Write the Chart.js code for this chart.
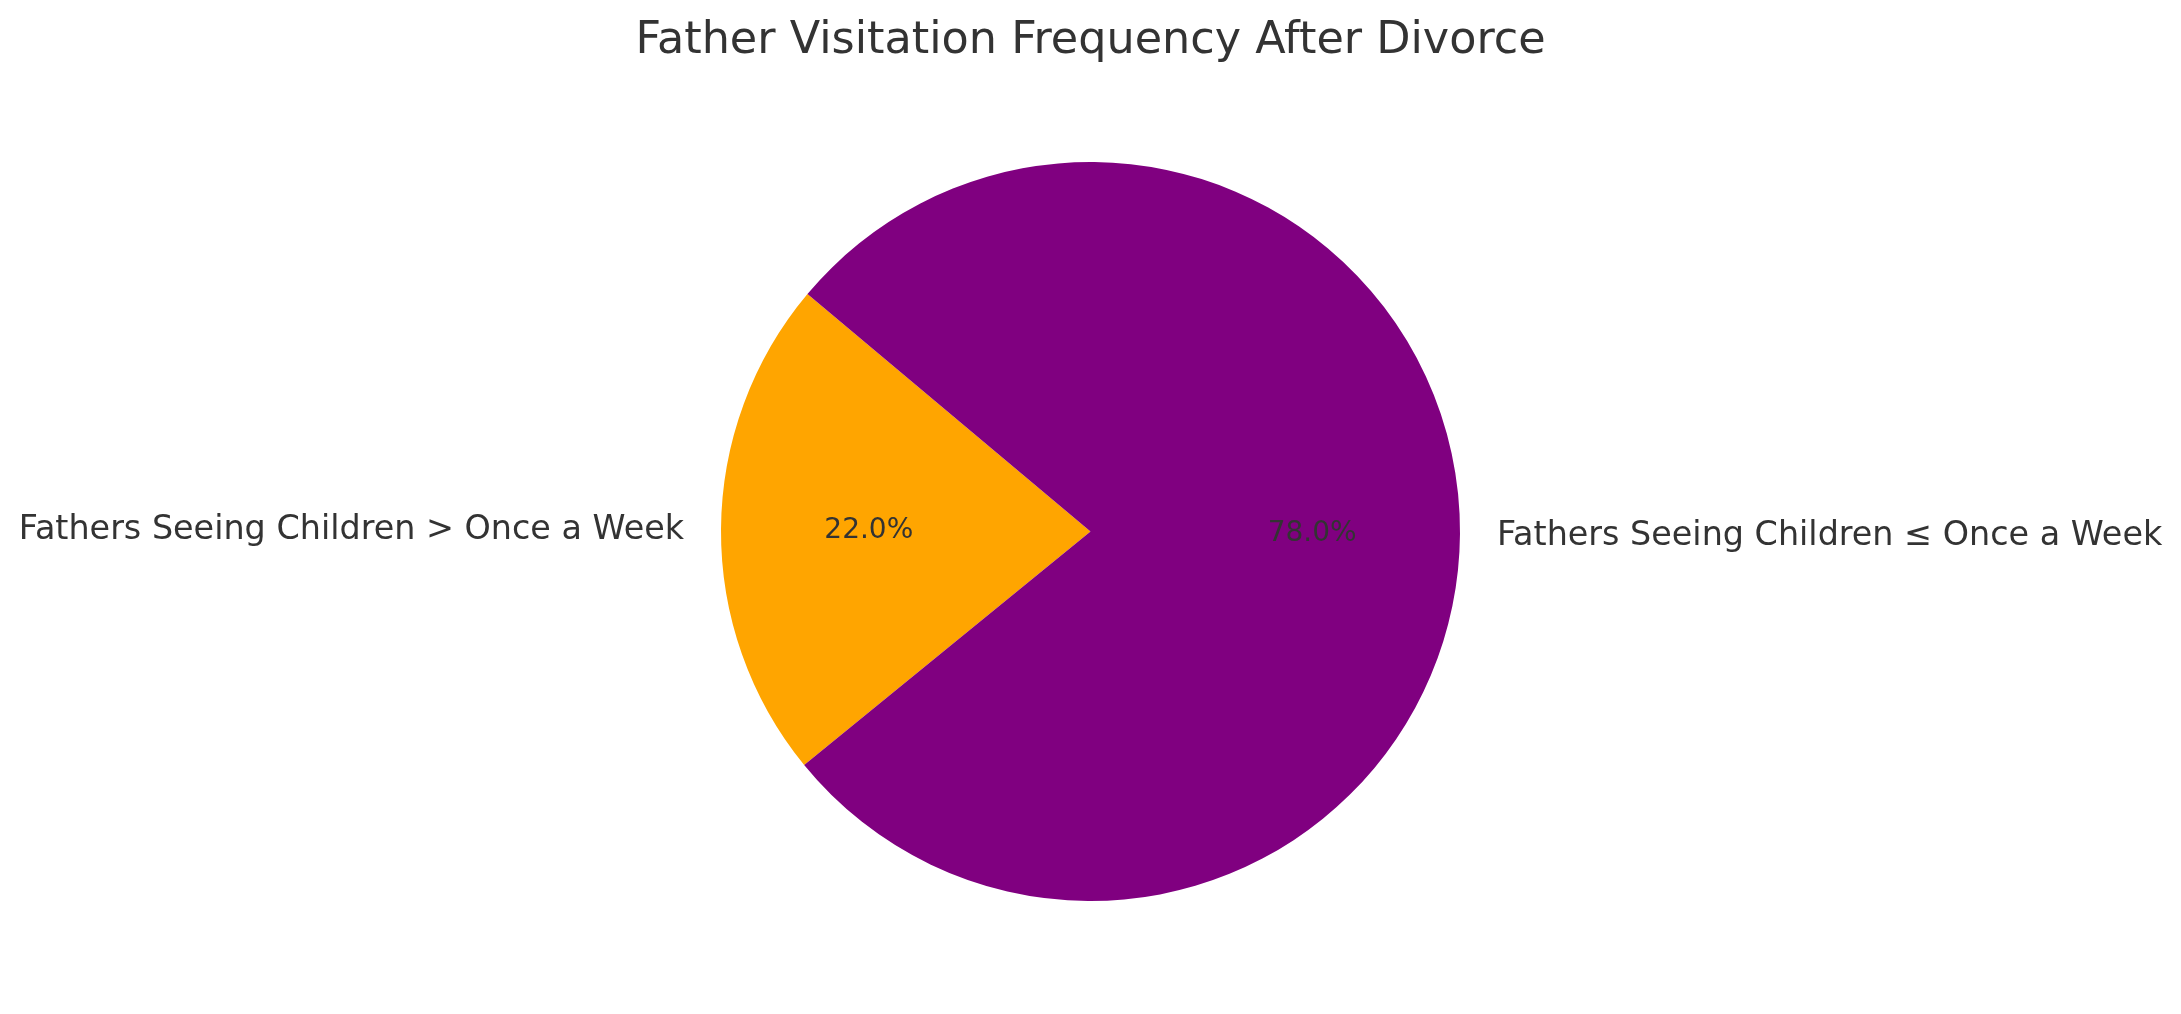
<!DOCTYPE html>
<html>
<head>
<meta charset="utf-8">
<script src="https://cdn.jsdelivr.net/npm/chart.js@4/dist/chart.umd.min.js"></script>
<style>
  html, body { margin: 0; padding: 0; background: #fff; }
  #wrap { width: 2181px; height: 1014px; }
</style>
</head>
<body>
<div id="wrap"><canvas id="myChart" width="2181" height="1014"></canvas></div>
<script>
const chartTitle = "Father Visitation Frequency After Divorce";
const labels = [
  "Fathers Seeing Children > Once a Week",
  "Fathers Seeing Children \u2264 Once a Week",
];
const values = [22, 78];
const colors = ["#FFA500", "#800080"];

const FONT = "'DejaVu Sans', sans-serif";
const TEXT = "#333333";

// labels outside at 1.1 r, percentages inside at 0.6 r (like matplotlib)
const pieText = {
  id: "pieText",
  afterDraw(chart) {
    const ctx = chart.ctx;
    const total = values.reduce((a, b) => a + b, 0);
    ctx.save();
    ctx.fillStyle = TEXT;
    ctx.font = "44.5px " + FONT;
    ctx.textAlign = "center";
    ctx.textBaseline = "middle";
    ctx.fillText(chartTitle, chart.width / 2, 41);

    chart.getDatasetMeta(0).data.forEach((arc, i) => {
      const mid = (arc.startAngle + arc.endAngle) / 2;
      const r = arc.outerRadius;
      const cos = Math.cos(mid), sin = Math.sin(mid);
      ctx.font = "33.4px " + FONT;
      ctx.textAlign = cos < 0 ? "right" : "left";
      ctx.fillText(labels[i], arc.x + 1.1 * r * cos, arc.y + 1.1 * r * sin + 2);
      ctx.font = "28px " + FONT;
      ctx.textAlign = "center";
      let pct = (values[i] / total * 100).toFixed(1) + "%";
      ctx.fillText(pct, arc.x + 0.6 * r * cos, arc.y + 0.6 * r * sin + 1);
    });
    ctx.restore();
  },
};

new Chart("myChart", {
  type: "pie",
  data: {
    labels: labels,
    datasets: [
      {
        data: values,
        backgroundColor: colors,
        borderWidth: 0,
      },
    ],
  },
  options: {
    responsive: false,
    animation: false,
    rotation: 230.8,
    layout: { padding: { top: 162, bottom: 113, left: 0, right: 0 } },
    plugins: {
      legend: { display: false },
      tooltip: { enabled: false },
    },
  },
  plugins: [pieText],
});
</script>
</body>
</html>
